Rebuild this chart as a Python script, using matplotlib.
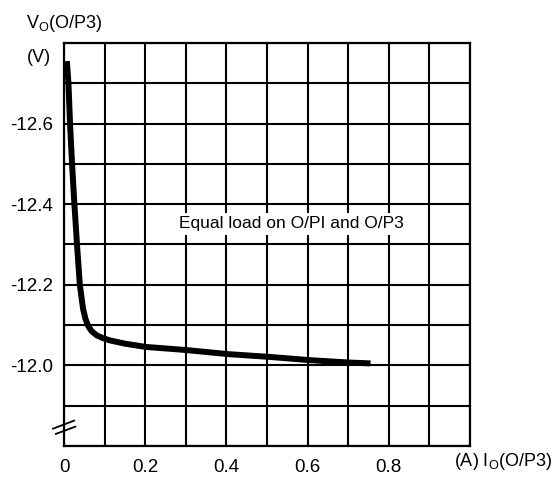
import matplotlib
matplotlib.use("Agg")
import matplotlib.pyplot as plt
import numpy as np

plt.rcParams['font.family'] = ['Liberation Sans', 'DejaVu Sans']

# Data
current_a = [0.007, 0.011, 0.015, 0.020, 0.025, 0.032, 0.039, 0.047, 0.053,
             0.060, 0.068, 0.080, 0.095, 0.113, 0.150, 0.200, 0.302, 0.404,
             0.507, 0.606, 0.704, 0.755]
voltage_v = [-12.755, -12.70, -12.597, -12.497, -12.41, -12.30, -12.20, -12.14,
             -12.115, -12.097, -12.085, -12.075, -12.068, -12.062, -12.054,
             -12.046, -12.038, -12.028, -12.021, -12.013, -12.007, -12.005]

x_ticks = [0, 0.2, 0.4, 0.6, 0.8]
x_tick_labels = ["0", "0.2", "0.4", "0.6", "0.8"]
y_ticks = [-12.6, -12.4, -12.2, -12.0]
y_tick_labels = ["-12.6", "-12.4", "-12.2", "-12.0"]
annotation = "Equal load on O/PI and O/P3"

fig = plt.figure(figsize=(5.57, 4.80), dpi=100)
ax = fig.add_axes([64/557, 1-446/480, 406/557, 403/480])

ax.set_xlim(0, 1.0)
ax.set_ylim(-11.8, -12.8)

ax.set_xticks(x_ticks)
ax.set_xticklabels(x_tick_labels)
ax.set_xticks(np.arange(0, 1.01, 0.1), minor=True)
ax.set_yticks(y_ticks)
ax.set_yticklabels(y_tick_labels)
ax.set_yticks(np.arange(-12.8, -11.79, 0.1), minor=True)

ax.grid(True, which='both', color='black', linewidth=1.5)
ax.tick_params(which='both', length=0, labelsize=13.5)
ax.tick_params(axis='y', pad=8)
ax.tick_params(axis='x', pad=9)
for s in ax.spines.values():
    s.set_linewidth(1.6)
    s.set_color('black')
ax.set_axisbelow(True)

ax.plot(current_a, voltage_v, color='black', linewidth=4.3,
        solid_capstyle='butt', solid_joinstyle='round', zorder=3)

ax.text(0.559, -12.352, annotation, ha='center', va='center', fontsize=12.5,
        bbox=dict(facecolor='white', edgecolor='none', pad=2.5), zorder=4)

# axis break marks
ax.plot([-0.027, 0.025], [0.043, 0.063], transform=ax.transAxes, color='black',
        linewidth=1.3, clip_on=False, zorder=5)
ax.plot([-0.02, 0.028], [0.03, 0.048], transform=ax.transAxes, color='black',
        linewidth=1.3, clip_on=False, zorder=5)

fig.text(26/557, 1-23/480, r"V$_\mathregular{O}$(O/P3)", fontsize=13,
         ha='left', va='center')
fig.text(27/557, 1-58/480, "(V)", fontsize=13, ha='left', va='center')
fig.text(454/557, 1-461/480, r"(A) I$_\mathregular{O}$(O/P3)", fontsize=13,
         ha='left', va='center')

fig.savefig("out.png", dpi=100, facecolor='white')
